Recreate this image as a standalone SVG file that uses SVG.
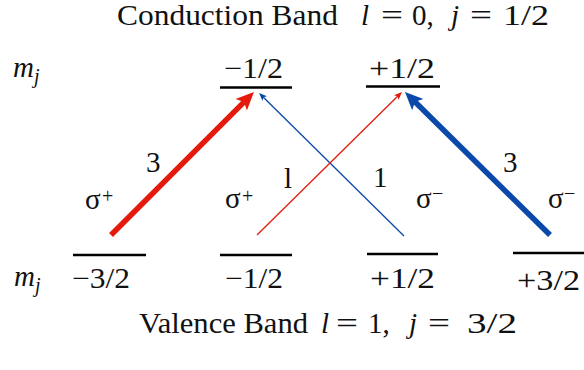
<svg xmlns="http://www.w3.org/2000/svg" width="584" height="370" viewBox="0 0 584 370" font-family="Liberation Serif, DejaVu Serif, serif">
<style>
  text { font-family: "Liberation Serif", "DejaVu Serif", serif; font-size: 29px; fill: #111; }
  .i { font-style: italic; }
  .sup { font-size: 20px; }
  .lvl { stroke: #000; stroke-width: 2.5; }
  .red { stroke: #e41a0c; fill: none; }
  .blue { stroke: #0a49aa; fill: none; }
  .thick { stroke-width: 5.5; }
  .thin { stroke-width: 1.3; }
</style>
<defs>
  <marker id="hRedBig" markerUnits="userSpaceOnUse" viewBox="-20 -10 22 20" markerWidth="22" markerHeight="20" refX="-10" refY="0" orient="auto">
    <path d="M0,0 L-18,-8 L-14,0 L-18,8 Z" fill="#e41a0c"/>
  </marker>
  <marker id="hBlueBig" markerUnits="userSpaceOnUse" viewBox="-20 -10 22 20" markerWidth="22" markerHeight="20" refX="-10" refY="0" orient="auto">
    <path d="M0,0 L-18,-8 L-14,0 L-18,8 Z" fill="#0a49aa"/>
  </marker>
  <marker id="hRedSmall" markerUnits="userSpaceOnUse" viewBox="-10 -5 12 10" markerWidth="12" markerHeight="10" refX="-5" refY="0" orient="auto">
    <path d="M0,0 L-8,-3.2 L-6,0 L-8,3.2 Z" fill="#e41a0c"/>
  </marker>
  <marker id="hBlueSmall" markerUnits="userSpaceOnUse" viewBox="-10 -5 12 10" markerWidth="12" markerHeight="10" refX="-5" refY="0" orient="auto">
    <path d="M0,0 L-8,-3.2 L-6,0 L-8,3.2 Z" fill="#0a49aa"/>
  </marker>
</defs>

<g id="title-conduction">
  <text y="25"><tspan x="117" textLength="221" lengthAdjust="spacingAndGlyphs">Conduction Band</tspan><tspan class="i" x="361">l</tspan><tspan x="381" textLength="22" lengthAdjust="spacingAndGlyphs">=</tspan><tspan x="412">0,</tspan><tspan class="i" x="451">j</tspan><tspan x="470" textLength="22" lengthAdjust="spacingAndGlyphs">=</tspan><tspan x="503" textLength="46" lengthAdjust="spacingAndGlyphs">1/2</tspan></text>
</g>

<g id="title-valence">
  <text y="333"><tspan x="139" textLength="169" lengthAdjust="spacingAndGlyphs">Valence Band</tspan><tspan class="i" x="321">l</tspan><tspan x="336" textLength="22" lengthAdjust="spacingAndGlyphs">=</tspan><tspan x="368">1,</tspan><tspan class="i" x="409">j</tspan><tspan x="428" textLength="22" lengthAdjust="spacingAndGlyphs">=</tspan><tspan x="467" textLength="50" lengthAdjust="spacingAndGlyphs">3/2</tspan></text>
</g>

<g id="mj-top"><text class="i" x="13" y="77">m<tspan class="sup" dy="6">j</tspan></text></g>
<g id="mj-bottom"><text class="i" x="14" y="286">m<tspan class="sup" dy="6">j</tspan></text></g>

<g id="cb-minus-half">
  <line class="lvl" x1="220" y1="87.5" x2="292" y2="87.5"/>
  <text x="224" y="78" textLength="59" lengthAdjust="spacingAndGlyphs">−1/2</text>
</g>
<g id="cb-plus-half">
  <line class="lvl" x1="366" y1="86.5" x2="440" y2="86.5"/>
  <text x="369" y="78" textLength="66" lengthAdjust="spacingAndGlyphs">+1/2</text>
</g>

<g id="vb-minus-3half">
  <line class="lvl" x1="73" y1="255" x2="146" y2="255"/>
  <text x="72" y="288" textLength="58" lengthAdjust="spacingAndGlyphs">−3/2</text>
</g>
<g id="vb-minus-half">
  <line class="lvl" x1="220" y1="255" x2="292" y2="255"/>
  <text x="225" y="288" textLength="58" lengthAdjust="spacingAndGlyphs">−1/2</text>
</g>
<g id="vb-plus-half">
  <line class="lvl" x1="367" y1="254" x2="438" y2="254"/>
  <text x="370" y="288" textLength="65" lengthAdjust="spacingAndGlyphs">+1/2</text>
</g>
<g id="vb-plus-3half">
  <line class="lvl" x1="513" y1="253" x2="584" y2="253"/>
  <text x="517" y="290" textLength="63" lengthAdjust="spacingAndGlyphs">+3/2</text>
</g>

<g id="connectors">
  <line class="red thick" x1="111" y1="235" x2="246.9" y2="99.1" marker-end="url(#hRedBig)"/>
  <line class="blue thin" x1="404" y1="236" x2="262.6" y2="96.5" marker-end="url(#hBlueSmall)"/>
  <line class="red thin" x1="257" y1="235" x2="398.4" y2="95.5" marker-end="url(#hRedSmall)"/>
  <line class="blue thick" x1="550" y1="235" x2="412.1" y2="99" marker-end="url(#hBlueBig)"/>
</g>

<g id="labels">
  <text x="146" y="172">3</text>
  <text x="284" y="188">l</text>
  <text x="373" y="187">1</text>
  <text x="503" y="172">3</text>
  <text x="85" y="209">σ<tspan class="sup" x="102" y="203">+</tspan></text>
  <text x="225" y="208">σ<tspan class="sup" x="242" y="203">+</tspan></text>
  <text x="416" y="208">σ<tspan class="sup" x="432" y="200">−</tspan></text>
  <text x="548" y="208">σ<tspan class="sup" x="564" y="200">−</tspan></text>
</g>
</svg>
